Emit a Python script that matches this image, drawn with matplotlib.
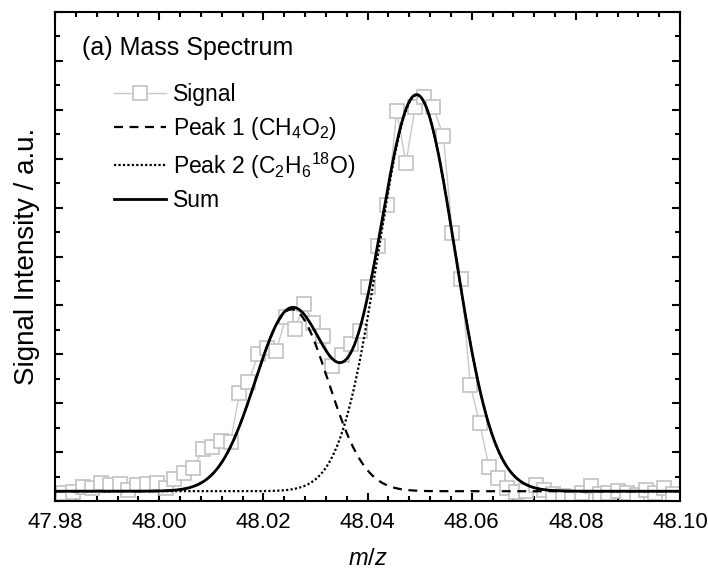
import numpy as np
import matplotlib
matplotlib.use("Agg")
import matplotlib.pyplot as plt
from matplotlib.ticker import MultipleLocator, NullFormatter

plt.rcParams['font.family'] = ['Liberation Sans', 'DejaVu Sans']
plt.rcParams['mathtext.fontset'] = 'custom'
plt.rcParams['mathtext.rm'] = 'Liberation Sans'
plt.rcParams['mathtext.it'] = 'Liberation Sans:italic'

# ---- data ----
signal_mz = [47.98144, 47.98342, 47.98534, 47.98705, 47.98889, 47.99056, 47.99248,
             47.99407, 47.99578, 47.99761, 47.99953, 48.00122, 48.00289, 48.00477,
             48.00655, 48.00842, 48.01009, 48.01181, 48.01370, 48.01542, 48.01715,
             48.01903, 48.02070, 48.02249, 48.02435, 48.02608, 48.02781, 48.02959,
             48.03140, 48.03313, 48.03505, 48.03677, 48.03856, 48.04015, 48.04207,
             48.04380, 48.04561, 48.04739, 48.04912, 48.05091, 48.05263, 48.05455,
             48.05628, 48.05795, 48.05974, 48.06154, 48.06333, 48.06511, 48.06684,
             48.06857, 48.07049, 48.07226, 48.07393, 48.07567, 48.07744, 48.07921,
             48.08113, 48.08285, 48.08464, 48.08623, 48.08815, 48.08988, 48.09169,
             48.09347, 48.09520, 48.09699, 48.09872]
signal_int = [0.17, 0.19, 0.29, 0.26, 0.36, 0.33, 0.34, 0.22, 0.33, 0.34, 0.36, 0.27,
              0.46, 0.57, 0.67, 1.07, 1.11, 1.23, 1.21, 2.20, 2.44, 3.00, 3.13, 3.07,
              3.77, 3.52, 4.02, 3.63, 3.37, 2.76, 2.99, 3.22, 3.48, 4.38, 5.21, 6.05,
              7.98, 6.91, 8.05, 8.27, 8.05, 7.47, 5.49, 4.55, 2.37, 1.59, 0.70, 0.48,
              0.27, 0.19, 0.21, 0.33, 0.22, 0.14, 0.10, 0.09, 0.16, 0.31, 0.14, 0.17,
              0.21, 0.16, 0.12, 0.22, 0.17, 0.26, 0.14]

baseline = 0.20
peak_centers = [48.02545, 48.04945]
peak_amplitudes = [3.72, 8.10]
peak_sigmas = [0.00700, 0.00734]
labels = ['Signal', r'Peak 1 (CH$_4$O$_2$)', r'Peak 2 (C$_2$H$_6$$^{18}$O)', 'Sum']

# ---- figure ----
fig = plt.figure(figsize=(7.08, 5.77), dpi=100)
ax = fig.add_axes([55/708, 1-501/577, 625/708, 489/577])

xf = np.linspace(47.98, 48.10, 1200)
p1 = baseline + peak_amplitudes[0]*np.exp(-0.5*((xf-peak_centers[0])/peak_sigmas[0])**2)
p2 = baseline + peak_amplitudes[1]*np.exp(-0.5*((xf-peak_centers[1])/peak_sigmas[1])**2)
sm = p1 + p2 - baseline

ax.plot(signal_mz, signal_int, color='#c8c8c8', lw=1.0, marker='s', ms=9.5,
        mfc='white', mec='#c2c2c2', mew=1.2, label=labels[0], zorder=2, clip_on=True)
ax.plot(xf, p1, color='black', lw=1.6, dashes=(4, 3), label=labels[1], zorder=3)
ax.plot(xf, p2, color='black', lw=1.6, dashes=(1, 1), label=labels[2], zorder=3)
ax.plot(xf, sm, color='black', lw=2.0, label=labels[3], zorder=4)

ax.set_xlim(47.98, 48.10)
ax.set_ylim(0, 10)
ax.xaxis.set_major_locator(MultipleLocator(0.02))
ax.xaxis.set_minor_locator(MultipleLocator(0.004))
ax.yaxis.set_major_locator(MultipleLocator(1))
ax.yaxis.set_minor_locator(MultipleLocator(0.5))
ax.yaxis.set_major_formatter(NullFormatter())
ax.xaxis.set_major_formatter(matplotlib.ticker.FuncFormatter(lambda v, p: f"{v:.2f}"))
ax.tick_params(which='both', direction='in', top=True, right=True, width=1.5)
ax.tick_params(which='major', length=6)
ax.tick_params(which='minor', length=3.5)
ax.tick_params(axis='x', labelsize=16, pad=8)
for s in ax.spines.values():
    s.set_linewidth(1.5)

ax.set_xlabel(r'$m/z$', fontsize=17, labelpad=11)
ax.set_ylabel('Signal Intensity / a.u.', fontsize=20, labelpad=7)

ax.text(0.043, 0.926, '(a) Mass Spectrum', transform=ax.transAxes, fontsize=18,
        va='center', ha='left')

leg = ax.legend(loc='upper left', bbox_to_anchor=(0.094, 0.855), frameon=False,
                fontsize=16.5, handlelength=2.3, handletextpad=0.28, labelspacing=0.38,
                borderaxespad=0, borderpad=0, numpoints=1)

fig.savefig('out.png', dpi=100)
